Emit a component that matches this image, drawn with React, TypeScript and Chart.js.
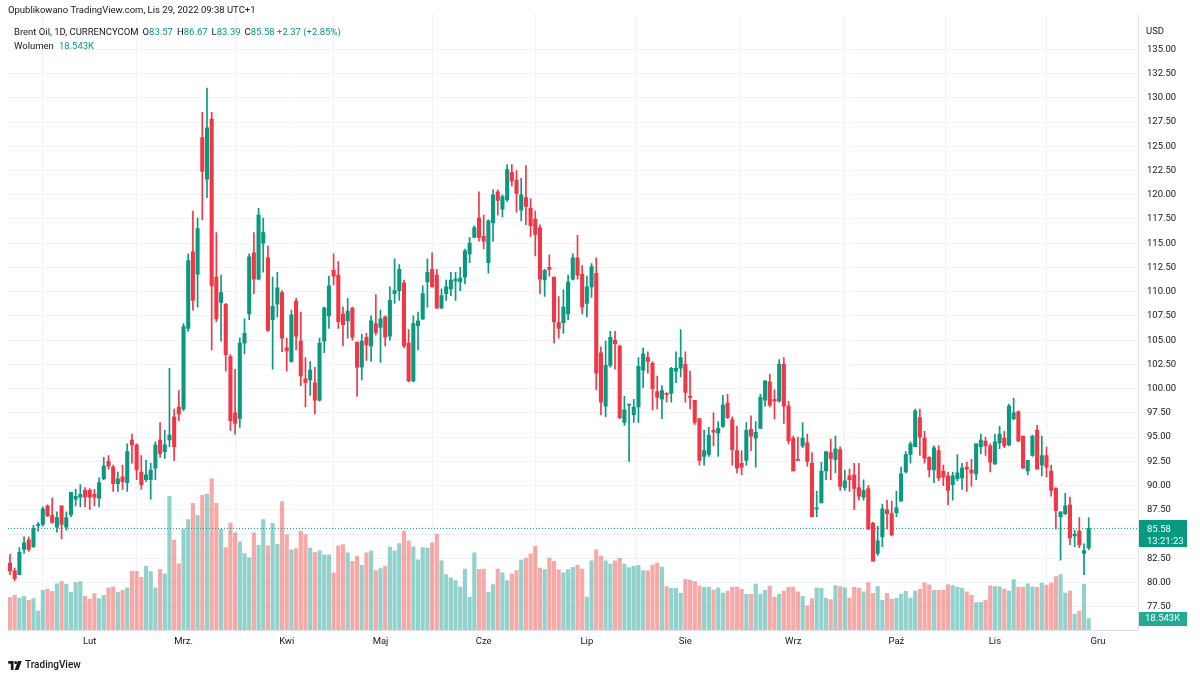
import React, { useEffect, useRef } from 'react';
import { Chart, registerables } from 'chart.js';

Chart.register(...registerables);

// ---------------- DATA ----------------
const opens = [
  82.0, 81.2, 80.8, 83.4, 84.4, 83.7, 85.9, 86.0, 87.9, 86.9,
  85.7, 87.9, 85.7, 87.0, 88.6, 88.8, 89.5, 89.5, 89.1, 88.7,
  90.7, 92.5, 91.9, 90.2, 90.9, 90.3, 94.7, 94.2, 91.4, 90.6,
  90.6, 91.8, 94.7, 93.5, 94.7, 97.1, 98.1, 97.9, 106.2, 114.1,
  111.8, 125.9, 121.6, 127.8, 111.5, 108.9, 108.7, 103.3, 97.5, 96.9,
  104.7, 107.7, 114.0, 111.3, 115.0, 113.5, 107.1, 108.7, 109.9, 104.2,
  102.8, 109.0, 104.9, 101.0, 100.9, 100.6, 98.8, 104.9, 107.5, 112.2,
  111.7, 107.7, 107.0, 108.3, 104.8, 102.2, 105.3, 104.4, 106.7, 106.3,
  107.4, 105.4, 109.8, 110.1, 110.9, 104.7, 100.8, 106.5, 107.2, 111.0,
  112.3, 111.7, 108.3, 109.8, 110.3, 111.1, 111.0, 111.5, 113.9, 115.6,
  117.6, 115.7, 113.0, 117.1, 120.3, 118.5, 119.5, 122.3, 121.5, 118.4,
  119.7, 118.6, 117.5, 116.6, 111.2, 112.5, 111.5, 106.8, 106.8, 107.7,
  111.3, 113.5, 111.8, 108.8, 110.5, 111.9, 103.7, 98.2, 102.4, 105.0,
  104.4, 96.5, 98.3, 97.3, 98.1, 101.9, 103.2, 102.6, 99.7, 98.9,
  99.5, 99.5, 101.8, 102.1, 102.5, 99.2, 98.8, 96.9, 93.0, 93.2,
  95.7, 95.4, 96.1, 98.5, 96.8, 93.6, 92.3, 92.6, 95.8, 94.9,
  95.9, 98.8, 100.7, 98.9, 98.7, 102.5, 98.2, 94.9, 92.7, 94.1,
  94.4, 92.3, 87.6, 88.2, 91.5, 93.4, 92.7, 93.7, 89.8, 91.0,
  91.1, 89.8, 88.8, 89.7, 86.1, 83.0, 84.7, 87.5, 87.1, 87.2,
  88.4, 91.4, 93.2, 94.0, 97.0, 94.9, 92.9, 91.6, 93.6, 91.5,
  91.0, 90.1, 90.7, 90.8, 91.9, 91.6, 91.2, 94.0, 94.6, 94.1,
  92.2, 94.4, 94.9, 94.2, 96.9, 97.6, 95.1, 91.5, 93.1, 95.7,
  92.1, 93.1, 91.5, 89.7, 86.8, 87.1, 88.0, 84.8, 85.3, 83.0,
  83.57,
];

const highs = [
  82.9, 81.5, 83.6, 84.7, 84.7, 85.9, 86.2, 87.8, 88.0, 88.7,
  87.3, 87.9, 87.3, 89.3, 89.6, 90.1, 89.8, 89.7, 89.6, 90.8,
  92.9, 93.1, 92.1, 91.4, 92.1, 94.3, 95.3, 94.3, 93.1, 92.6,
  92.3, 94.5, 96.5, 95.7, 102.1, 97.9, 99.8, 106.7, 113.9, 118.3,
  117.6, 128.5, 131.0, 128.5, 116.1, 111.7, 108.8, 103.5, 102.0, 105.2,
  107.2, 113.9, 116.1, 118.6, 117.6, 114.7, 111.5, 112.0, 110.1, 105.2,
  108.1, 109.3, 107.9, 103.2, 102.8, 102.2, 105.2, 108.4, 111.6, 113.9,
  113.1, 108.4, 109.3, 108.4, 104.8, 105.6, 105.7, 107.5, 109.7, 108.1,
  107.5, 110.5, 113.4, 112.8, 111.2, 106.1, 107.5, 107.9, 110.6, 113.4,
  114.0, 112.3, 110.3, 111.2, 112.0, 112.0, 112.5, 114.4, 115.6, 116.8,
  120.3, 117.9, 117.4, 120.5, 120.5, 120.0, 123.1, 123.1, 122.5, 121.7,
  123.0, 119.6, 118.3, 116.9, 112.3, 113.8, 111.5, 109.5, 110.2, 111.7,
  113.9, 115.8, 112.7, 111.6, 112.9, 113.5, 104.3, 104.9, 105.9, 105.9,
  104.5, 99.2, 98.4, 98.9, 103.2, 104.2, 103.8, 102.8, 101.3, 100.3,
  99.6, 102.2, 103.8, 106.1, 103.8, 101.8, 98.8, 96.9, 95.7, 96.0,
  97.5, 96.6, 99.3, 99.4, 97.1, 96.1, 93.6, 96.5, 97.2, 96.6,
  99.4, 100.8, 101.5, 99.9, 103.0, 103.2, 98.7, 95.1, 95.0, 96.5,
  95.3, 93.4, 89.4, 92.4, 93.5, 94.8, 95.1, 94.0, 91.6, 91.7,
  92.3, 92.3, 90.6, 90.0, 86.2, 85.8, 88.1, 88.5, 88.4, 89.4,
  91.9, 93.5, 94.5, 97.9, 97.9, 95.6, 93.0, 94.1, 94.1, 92.1,
  91.4, 91.4, 93.2, 92.3, 92.4, 92.7, 94.3, 95.3, 95.0, 94.3,
  95.3, 96.1, 95.6, 98.4, 99.0, 97.7, 95.1, 92.6, 95.2, 96.2,
  95.1, 94.0, 92.1, 89.8, 87.3, 89.2, 88.8, 85.4, 86.7, 84.0,
  86.67,
];

const lows = [
  80.8, 80.2, 80.8, 83.0, 83.2, 83.6, 85.3, 85.8, 86.8, 86.1,
  85.2, 84.5, 85.4, 86.8, 87.9, 87.8, 87.8, 87.5, 87.9, 87.8,
  90.6, 91.7, 89.4, 89.4, 89.6, 89.4, 92.3, 90.6, 89.6, 90.4,
  88.6, 90.6, 92.9, 92.8, 94.0, 92.6, 96.7, 97.7, 105.9, 108.1,
  108.4, 117.4, 119.7, 104.0, 106.9, 104.9, 101.8, 95.7, 95.3, 96.0,
  103.6, 107.1, 109.8, 111.2, 112.0, 105.9, 102.0, 107.4, 103.8, 101.8,
  102.7, 104.0, 100.3, 98.1, 99.3, 97.4, 98.7, 103.7, 106.2, 110.7,
  106.2, 104.4, 105.2, 105.0, 99.2, 100.9, 102.9, 102.8, 105.5, 102.7,
  104.4, 105.0, 108.8, 109.1, 104.2, 100.7, 100.7, 104.0, 107.1, 108.4,
  110.5, 108.3, 108.3, 109.1, 109.6, 109.1, 110.1, 110.8, 113.0, 115.6,
  115.2, 114.4, 111.9, 115.2, 117.9, 117.7, 119.3, 120.9, 118.2, 117.3,
  116.9, 115.7, 113.7, 109.8, 109.5, 111.6, 104.7, 105.2, 105.7, 107.1,
  111.2, 111.3, 107.7, 107.4, 109.4, 99.9, 97.3, 97.1, 102.2, 102.0,
  96.9, 96.2, 92.5, 96.5, 96.5, 100.1, 101.6, 97.8, 97.9, 96.9,
  98.6, 98.6, 100.6, 101.2, 98.6, 97.9, 96.3, 92.1, 92.1, 93.0,
  94.1, 93.0, 96.0, 96.9, 92.1, 91.3, 91.1, 92.1, 93.6, 91.9,
  95.9, 98.2, 98.1, 96.9, 98.6, 96.4, 94.3, 91.5, 92.6, 93.9,
  92.0, 86.8, 86.8, 88.2, 90.6, 90.6, 91.3, 89.5, 89.5, 89.4,
  87.5, 88.5, 88.5, 85.5, 82.2, 82.8, 83.7, 85.5, 84.8, 86.8,
  88.4, 91.3, 92.3, 94.0, 93.1, 92.3, 90.9, 90.3, 90.5, 90.0,
  88.0, 88.5, 90.5, 89.6, 89.4, 89.9, 90.6, 93.3, 93.1, 91.4,
  92.2, 93.8, 93.9, 94.1, 96.8, 94.5, 91.8, 91.1, 93.0, 91.7,
  91.0, 90.9, 88.9, 85.5, 82.3, 87.0, 83.9, 83.7, 83.6, 80.8,
  83.39,
];

const closes = [
  81.2, 80.4, 83.1, 84.1, 83.4, 85.6, 86.0, 87.6, 86.9, 86.2,
  86.7, 86.0, 86.7, 89.3, 88.9, 89.1, 88.8, 88.8, 88.8, 90.3,
  92.0, 92.0, 90.2, 90.7, 90.4, 93.5, 94.2, 91.6, 90.1, 91.1,
  91.6, 94.2, 93.3, 94.2, 95.2, 94.0, 97.4, 106.4, 113.2, 109.1,
  116.5, 122.4, 126.9, 110.6, 107.2, 109.9, 103.5, 96.7, 96.4, 104.7,
  105.7, 113.6, 111.3, 117.9, 116.1, 106.0, 108.5, 110.4, 105.2, 103.9,
  107.6, 105.4, 101.3, 100.6, 101.9, 98.8, 104.7, 108.3, 110.6, 111.6,
  106.9, 106.6, 108.0, 105.3, 102.2, 104.9, 104.5, 107.0, 105.8, 107.2,
  105.3, 109.1, 110.1, 112.3, 104.4, 100.8, 106.7, 107.0, 109.8, 112.0,
  110.5, 108.3, 109.6, 110.5, 111.2, 111.3, 111.4, 114.2, 115.0, 116.6,
  115.6, 115.2, 117.3, 120.0, 119.4, 119.8, 122.6, 121.4, 120.1, 120.0,
  118.8, 116.8, 115.9, 111.3, 112.2, 112.3, 106.9, 106.2, 108.4, 111.0,
  113.5, 111.7, 108.4, 110.5, 112.6, 101.6, 98.6, 102.4, 105.3, 104.6,
  97.0, 97.8, 98.4, 98.1, 102.3, 103.6, 102.8, 100.0, 99.1, 99.8,
  99.4, 102.1, 102.1, 103.2, 99.6, 99.1, 96.5, 92.6, 93.6, 95.2,
  95.5, 95.9, 98.3, 97.0, 93.7, 91.8, 91.9, 95.7, 95.1, 95.5,
  99.1, 100.8, 98.3, 98.7, 102.5, 98.2, 94.6, 91.5, 92.6, 94.9,
  92.5, 86.8, 87.7, 91.5, 93.5, 92.8, 93.8, 89.9, 90.5, 90.6,
  89.7, 88.9, 89.5, 85.5, 82.2, 84.3, 87.6, 87.1, 84.9, 87.7,
  91.2, 93.2, 94.3, 97.7, 95.0, 92.8, 91.6, 93.9, 90.8, 90.9,
  89.5, 91.0, 91.3, 91.8, 91.7, 91.3, 94.3, 94.7, 94.1, 92.4,
  94.5, 95.3, 94.1, 98.2, 97.5, 94.6, 91.8, 92.6, 95.1, 91.7,
  93.1, 91.9, 89.5, 87.4, 87.3, 87.9, 84.6, 85.0, 83.9, 83.3,
  85.58,
];

// volume in thousands
const volumes = [
  52.3, 56.0, 51.7, 54.4, 48.0, 50.7, 30.4, 64.0, 66.1, 62.4,
  74.7, 78.4, 74.1, 60.8, 76.8, 78.4, 54.4, 50.1, 58.7, 50.7,
  56.0, 68.3, 69.9, 60.8, 64.0, 68.3, 94.9, 94.9, 85.3, 102.9,
  94.4, 68.3, 98.1, 90.7, 216.0, 145.6, 107.2, 162.7, 178.7, 204.8,
  185.6, 217.6, 219.7, 244.3, 204.8, 162.7, 133.3, 173.3, 157.3, 142.4,
  123.7, 116.8, 157.3, 137.1, 178.7, 136.0, 172.3, 138.7, 207.5, 154.1,
  129.6, 131.7, 160.0, 154.1, 132.3, 125.3, 128.0, 121.6, 121.6, 92.3,
  136.0, 138.1, 124.8, 110.9, 119.5, 104.5, 124.8, 127.5, 96.0, 99.2,
  103.5, 133.9, 127.5, 139.7, 160.0, 144.0, 134.4, 113.6, 133.3, 132.3,
  140.8, 154.7, 112.0, 89.6, 84.3, 80.0, 69.3, 98.7, 52.8, 124.8,
  98.1, 98.7, 60.8, 73.6, 98.7, 92.3, 80.0, 90.7, 96.0, 113.1,
  115.7, 123.2, 135.5, 100.3, 97.6,
  116.3, 110.9, 97.1, 92.3, 97.6, 101.3, 105.1, 98.7, 53.3, 112.0,
  129.6, 119.5, 112.0, 106.7, 112.0, 115.7, 106.7, 100.8, 103.0, 104.5,
  96.0, 96.0, 105.1, 108.3, 101.9, 70.4, 67.2, 67.2, 59.2, 82.1,
  80.5, 78.4, 71.5, 69.3, 69.3, 64.5, 68.3, 59.7, 62.9, 69.3,
  69.3, 65.6, 57.6, 57.6, 74.1, 58.1, 64.0, 70.9, 53.3, 57.6,
  62.9, 69.3, 69.3, 61.9, 54.4, 38.9, 50.7, 68.3, 67.2, 51.7,
  49.1, 72.0, 70.4, 68.3, 51.7, 68.8, 67.7, 61.9, 76.8, 59.2,
  70.4, 48.0, 59.2, 50.1, 51.2, 58.0, 62.4, 51.7, 62.9, 65.6,
  76.3, 73.1, 64.0, 64.0, 64.0, 73.6, 72.0, 69.3, 67.2, 61.9,
  56.0, 44.3, 44.8, 48.0, 71.5, 70.4, 69.9, 66.0, 62.9, 81.6,
  69.3, 69.3, 74.7, 69.9, 68.8, 75.7, 72.5, 75.7, 86.4, 89.6,
  59.7, 62.9, 25.6, 30.4, 74.1, 18.543,
];

const monthTickIndex = [17, 37, 59, 79, 101, 123, 144, 167, 189, 210, 232];
const monthLabels = ['Lut', 'Mrz.', 'Kwi', 'Maj', 'Cze', 'Lip', 'Sie', 'Wrz', 'Paź', 'Lis', 'Gru'];
const priceTicks = [77.5, 80, 82.5, 85, 87.5, 90, 92.5, 95, 97.5, 100, 102.5, 105, 107.5, 110, 112.5, 115, 117.5, 120, 122.5, 125, 127.5, 130, 132.5, 135];

const countdownLabel = '13:21:23';
const volumeLabel = '18.543K';
const headerPublished = 'Opublikowano TradingView.com, Lis 29, 2022 09:38 UTC+1';
const symbolTitle = 'Brent Oil, 1D, CURRENCYCOM';
const ohlcLabels = [
  ['O', '83.57'],
  ['H', '86.67'],
  ['L', '83.39'],
  ['C', '85.58 +2.37 (+2.85%)'],
];

// ---------------- STYLE ----------------
const FONT = "Roboto, 'Liberation Sans', Arial, sans-serif";
const FS = 9.5;
const GREEN = '#089981';
const RED = '#f23645';
const VOL_GREEN = 'rgba(38,166,154,0.5)';
const VOL_RED = 'rgba(239,83,80,0.5)';
const GRID = '#f0f3fa';
const TEXT = '#131722';

export default function App() {
  const canvasRef = useRef<HTMLCanvasElement | null>(null);

  useEffect(() => {
    const canvas = canvasRef.current;
    if (!canvas) return;
    const n = closes.length;
    const idx = closes.map((_, i) => i);
    const isUp = closes.map((c, i) => c >= opens[i]);
    const candleCol = isUp.map((u) => (u ? GREEN : RED));
    const volCol = isUp.map((u) => (u ? VOL_GREEN : VOL_RED));
    const xMin = -0.4264;
    const xMax = 240.51;
    const lastClose = closes[n - 1];
    const lastVol = volumes[n - 1];

    const overlay = {
      id: 'tvOverlay',
      afterDatasetsDraw(chart: any) {
        const { ctx, chartArea, scales } = chart;
        const py = scales.y.getPixelForValue(lastClose);
        const vy = scales.yv.getPixelForValue(lastVol);
        const bx = chartArea.right + 1;
        ctx.save();
        ctx.fillStyle = GREEN;
        ctx.fillRect(bx, Math.round(py) - 8, 48, 27);
        ctx.fillStyle = '#ffffff';
        ctx.font = `${FS}px ${FONT}`;
        ctx.textBaseline = 'middle';
        ctx.textAlign = 'left';
        ctx.fillText(lastClose.toFixed(2), bx + 8, py + 1);
        ctx.fillText(countdownLabel, bx + 8, py + 13);
        ctx.fillStyle = '#22ab94';
        ctx.fillRect(bx, Math.round(vy) - 7, 48, 14);
        ctx.fillStyle = '#ffffff';
        ctx.fillText(volumeLabel, bx + 6, vy + 0.5);
        ctx.restore();
      },
    };

    const bodies = idx.map((i) => {
      const lo = Math.min(opens[i], closes[i]);
      const hi = Math.max(opens[i], closes[i]);
      return { x: i, y: [lo, hi] };
    });

    const chart = new Chart(canvas, {
      type: 'bar',
      data: {
        datasets: [
          {
            type: 'bar',
            data: idx.map((i) => ({ x: i, y: volumes[i] })),
            backgroundColor: volCol,
            barThickness: 3.5,
            yAxisID: 'yv',
            grouped: false,
            order: 4,
          } as any,
          {
            type: 'line',
            data: [
              { x: xMin, y: lastClose },
              { x: xMax, y: lastClose },
            ],
            borderColor: GREEN,
            borderWidth: 1,
            borderDash: [1, 2],
            pointRadius: 0,
            yAxisID: 'y',
            order: 3,
          } as any,
          {
            type: 'bar',
            data: idx.map((i) => ({ x: i, y: [lows[i], highs[i]] })),
            backgroundColor: candleCol,
            barThickness: 1,
            yAxisID: 'y',
            grouped: false,
            order: 2,
          } as any,
          {
            type: 'bar',
            data: bodies,
            backgroundColor: candleCol,
            barThickness: 3.4,
            minBarLength: 1,
            yAxisID: 'y',
            grouped: false,
            order: 1,
          } as any,
        ],
      },
      options: {
        responsive: false,
        animation: false,
        devicePixelRatio: 1,
        events: [],
        layout: { padding: { left: 8, top: 8, right: 0, bottom: 0 } },
        plugins: { legend: { display: false }, tooltip: { enabled: false } },
        scales: {
          x: {
            type: 'linear',
            min: xMin,
            max: xMax,
            offset: false,
            afterBuildTicks: (s: any) => {
              s.ticks = monthTickIndex.map((v) => ({ value: v }));
            },
            afterFit: (s: any) => {
              s.height = 49;
            },
            ticks: {
              autoSkip: false,
              maxRotation: 0,
              padding: 6,
              color: TEXT,
              font: { family: FONT, size: FS },
              callback: (v: any) => {
                const k = monthTickIndex.indexOf(Number(v));
                return k >= 0 ? monthLabels[k] : '';
              },
            },
            grid: { color: GRID, drawTicks: false },
            border: { display: true, color: '#e0e3eb' },
          },
          y: {
            type: 'linear',
            position: 'right',
            min: 75.1,
            max: 138.57,
            afterBuildTicks: (s: any) => {
              s.ticks = priceTicks.map((v) => ({ value: v }));
            },
            afterFit: (s: any) => {
              s.width = 62;
            },
            ticks: {
              padding: 9,
              color: TEXT,
              font: { family: FONT, size: FS },
              callback: (v: any) => Number(v).toFixed(2),
            },
            grid: { color: GRID, drawTicks: false },
            border: { display: true, color: '#e0e3eb' },
          },
          yv: {
            type: 'linear',
            display: false,
            min: 0,
            max: 995,
          },
        },
      } as any,
      plugins: [overlay],
    });
    return () => chart.destroy();
  }, []);

  const textBase: React.CSSProperties = {
    position: 'absolute',
    fontFamily: FONT,
    fontSize: FS,
    lineHeight: '12px',
    color: TEXT,
    whiteSpace: 'nowrap',
  };

  return (
    <div style={{ position: 'fixed', left: 0, top: 0, width: 1200, height: 679, background: '#ffffff' }}>
      <canvas ref={canvasRef} width={1200} height={679} style={{ display: 'block', width: 1200, height: 679 }} />
      <div style={{ ...textBase, left: 8, top: 4 }}>{headerPublished}</div>
      <div style={{ ...textBase, left: 14, top: 26 }}>
        <span>{symbolTitle}</span>
        {ohlcLabels.map(([k, v]) => (
          <span key={k} style={{ marginLeft: 4 }}>
            <span>{k}</span>
            <span style={{ color: GREEN }}>{v}</span>
          </span>
        ))}
      </div>
      <div style={{ ...textBase, left: 14, top: 40 }}>
        <span>Wolumen</span>
        <span style={{ color: GREEN, marginLeft: 5 }}>{volumeLabel}</span>
      </div>
      <div style={{ ...textBase, left: 1146, top: 25 }}>USD</div>
      <div style={{ ...textBase, left: 8, top: 659, display: 'flex', alignItems: 'center' }}>
        <svg width="14" height="9" viewBox="0 0 36 24" style={{ marginRight: 3 }}>
          <path d="M0 0h14v24H7V7H0z" fill={TEXT} />
          <circle cx="20" cy="4" r="4" fill={TEXT} />
          <path d="M26 0h10L27 24H17z" fill={TEXT} />
        </svg>
        <span style={{ fontWeight: 500, fontSize: 10 }}>TradingView</span>
      </div>
    </div>
  );
}
